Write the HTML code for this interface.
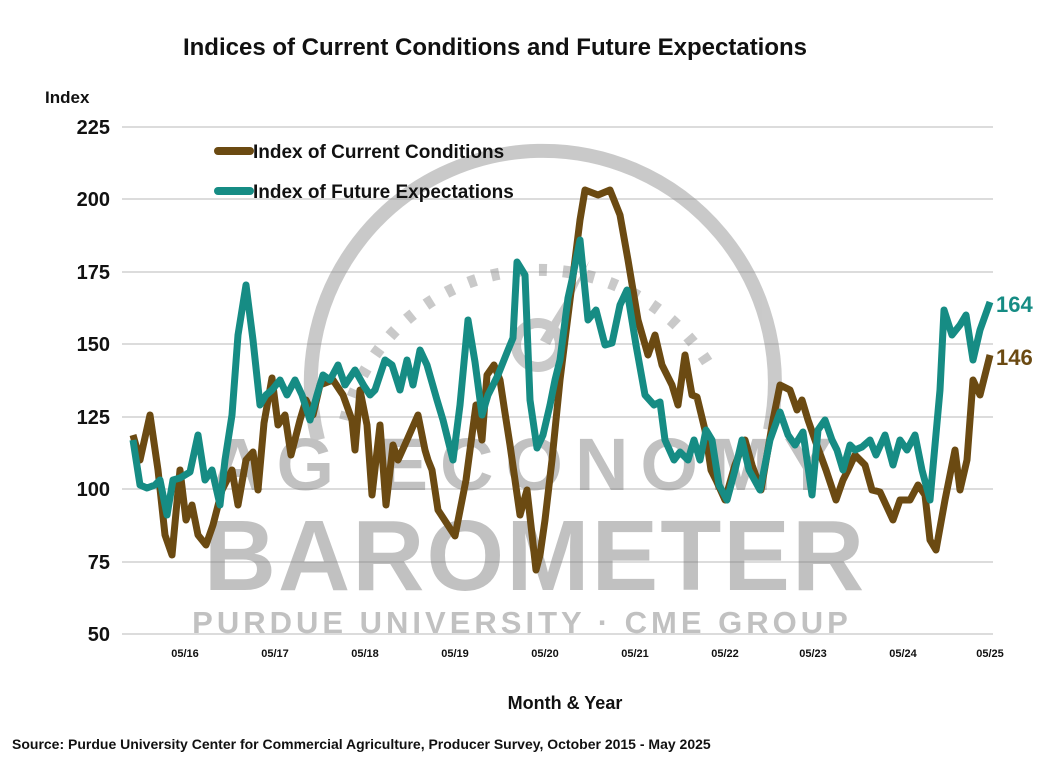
<!DOCTYPE html>
<html><head><meta charset="utf-8"><style>
html,body{margin:0;padding:0;background:#fff;}
svg{display:block;font-family:"Liberation Sans",sans-serif;}
</style></head><body>
<svg width="1050" height="761" viewBox="0 0 1050 761" xmlns="http://www.w3.org/2000/svg">
<rect width="1050" height="761" fill="#fff"/>
<g stroke="#d0d0d0" stroke-width="1.5">
<line x1="122" y1="127" x2="993" y2="127"/><line x1="122" y1="199" x2="993" y2="199"/>
<line x1="122" y1="272" x2="993" y2="272"/><line x1="122" y1="344" x2="993" y2="344"/>
<line x1="122" y1="417" x2="993" y2="417"/><line x1="122" y1="489" x2="993" y2="489"/>
<line x1="122" y1="562" x2="993" y2="562"/><line x1="122" y1="634" x2="993" y2="634"/>
</g>
<!-- watermark -->
<g opacity="0.45">
<path d="M318,440 A232,232 0 1,1 770,430" fill="none" stroke="#8a8a8a" stroke-width="14"/>
<path d="M345,420 A200,200 0 0,1 712,370" fill="none" stroke="#8a8a8a" stroke-width="12" stroke-dasharray="8,16"/>
<circle cx="538" cy="345" r="22" fill="none" stroke="#8a8a8a" stroke-width="10"/>
<polygon points="540,340 590,260 550,345" fill="#8a8a8a"/>
<text x="528" y="490" font-size="74" font-weight="bold" fill="#777" text-anchor="middle" letter-spacing="12">AG ECONOMY</text>
<text x="535" y="590" font-size="100" font-weight="bold" fill="#777" text-anchor="middle" letter-spacing="2">BAROMETER</text>
<text x="522" y="633" font-size="31" font-weight="bold" fill="#777" text-anchor="middle" letter-spacing="4">PURDUE UNIVERSITY · CME GROUP</text>
</g>
<text x="495" y="55" font-size="24" font-weight="bold" text-anchor="middle" fill="#111">Indices of Current Conditions and Future Expectations</text>
<text x="45" y="103" font-size="17" font-weight="bold" fill="#111">Index</text>
<g font-size="20" font-weight="bold" fill="#111" text-anchor="end">
<text x="110" y="134">225</text><text x="110" y="206">200</text><text x="110" y="279">175</text>
<text x="110" y="351">150</text><text x="110" y="424">125</text><text x="110" y="496">100</text>
<text x="110" y="569">75</text><text x="110" y="641">50</text>
</g>
<g font-size="11" font-weight="bold" fill="#111" text-anchor="middle">
<text x="185" y="657">05/16</text><text x="275" y="657">05/17</text><text x="365" y="657">05/18</text>
<text x="455" y="657">05/19</text><text x="545" y="657">05/20</text><text x="635" y="657">05/21</text>
<text x="725" y="657">05/22</text><text x="813" y="657">05/23</text><text x="903" y="657">05/24</text>
<text x="990" y="657">05/25</text>
</g>
<text x="565" y="709" font-size="18" font-weight="bold" text-anchor="middle" fill="#111">Month &amp; Year</text>
<text x="12" y="749" font-size="14" font-weight="bold" fill="#111">Source: Purdue University Center for Commercial Agriculture, Producer Survey, October 2015 - May 2025</text>
<line x1="218" y1="151" x2="250" y2="151" stroke="#6b4a12" stroke-width="8" stroke-linecap="round"/>
<text x="253" y="158" font-size="19" font-weight="bold" fill="#111">Index of Current Conditions</text>
<line x1="218" y1="191" x2="250" y2="191" stroke="#168c84" stroke-width="8" stroke-linecap="round"/>
<text x="253" y="198" font-size="19" font-weight="bold" fill="#111">Index of Future Expectations</text>
<polyline fill="none" stroke="#6b4a12" stroke-width="7" stroke-linejoin="round" points="133,435 140,460 150,415 158,470 165,535 172,555 180,470 186,520 192,505 198,535 206,545 213,525 222,490 232,470 238,505 246,460 253,452 258,490 264,423 272,378 278,425 285,415 291,455 300,420 306,400 313,415 320,385 333,380 343,395 352,420 355,450 360,390 367,425 372,495 380,425 386,505 393,445 398,460 407,440 418,415 425,450 428,460 432,470 438,510 455,536 466,480 476,405 482,440 487,375 494,365 500,380 505,413 510,445 520,515 527,490 536,570 540,555 545,520 552,460 560,380 570,300 580,220 585,190 598,195 610,190 620,215 628,260 638,320 648,355 655,335 662,365 672,385 678,405 685,355 692,395 697,397 705,430 711,470 716,480 725,500 735,465 745,440 752,465 761,490 773,420 780,385 790,390 797,410 802,400 808,420 815,440 826,470 836,500 843,480 848,470 855,455 865,465 872,490 880,492 893,520 900,500 910,500 918,485 925,495 930,540 936,550 945,500 955,450 960,490 967,460 973,380 980,395 990,355"/>
<polyline fill="none" stroke="#168c84" stroke-width="7" stroke-linejoin="round" points="133,440 140,485 147,488 155,485 160,480 167,515 173,480 180,478 190,472 198,435 205,480 212,470 220,505 225,460 232,415 238,335 246,285 253,340 260,405 266,395 272,390 280,380 287,395 295,380 302,395 310,420 317,395 323,375 330,380 338,365 345,385 355,370 364,386 370,395 375,390 385,360 392,365 400,390 407,360 413,385 420,350 427,365 437,400 443,420 453,460 460,405 468,320 475,362 482,415 488,395 498,375 508,350 513,338 517,262 525,275 530,400 537,448 543,435 550,405 555,380 560,360 568,298 572,280 580,240 588,320 596,310 605,345 612,343 620,305 627,290 636,345 645,395 654,405 660,402 665,440 674,460 680,452 688,460 694,440 700,460 706,430 712,440 719,485 727,500 735,470 742,440 749,470 760,490 770,440 780,412 788,435 795,445 803,432 812,495 818,430 825,420 832,440 837,450 843,470 850,445 855,450 862,447 870,440 876,455 885,435 893,465 900,440 907,450 915,435 922,470 930,500 940,390 944,310 952,335 960,325 966,315 973,360 980,330 990,302"/>
<text x="996" y="312" font-size="22" font-weight="bold" fill="#168c84">164</text>
<text x="996" y="365" font-size="22" font-weight="bold" fill="#6b4a12">146</text>
</svg>
</body></html>
